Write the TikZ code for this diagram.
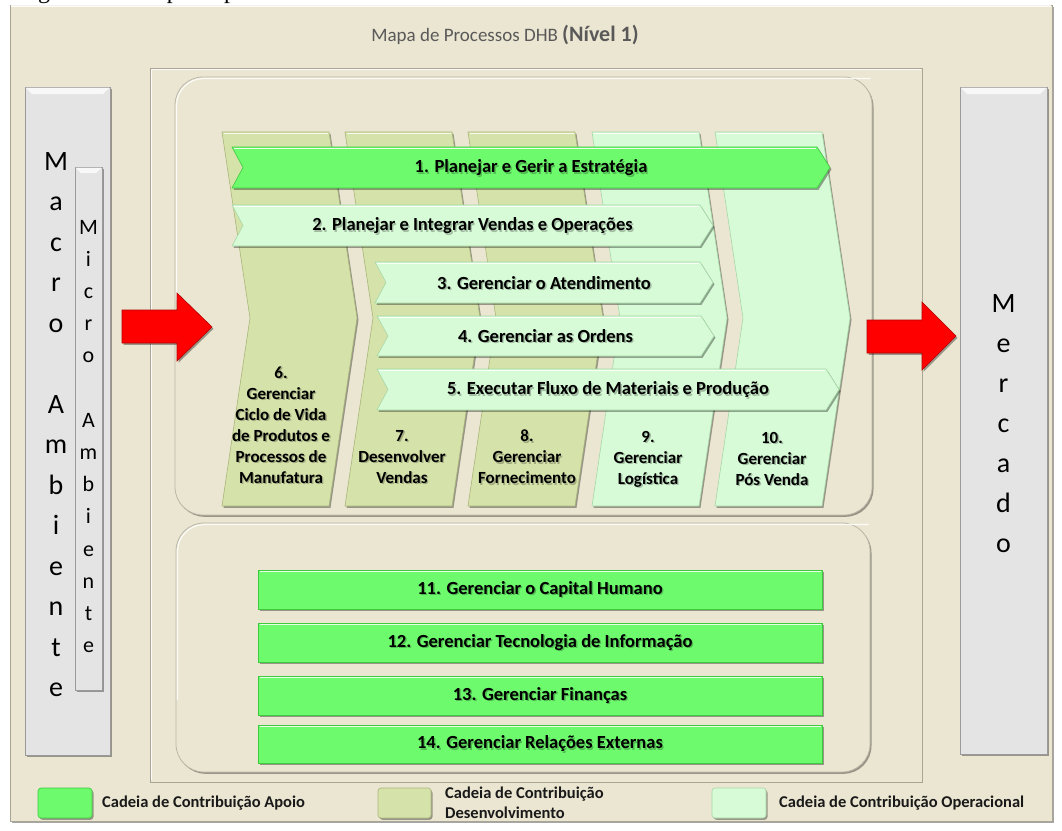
\documentclass[tikz,border=0pt]{standalone}
\usepackage{fontspec}
\setmainfont{Carlito}
\newfontfamily\capfont{Liberation Serif}
\usetikzlibrary{shadows,calc}
\definecolor{beige}{HTML}{EBE6D1}
\definecolor{beigeedge}{HTML}{A9A594}
\definecolor{olivec}{HTML}{D5E2A9}
\definecolor{oliveedge}{HTML}{A8B67A}
\definecolor{mintc}{HTML}{D7FBD7}
\definecolor{mintedge}{HTML}{A6D8A6}
\definecolor{greenc}{HTML}{6DFB6D}
\definecolor{greenedge}{HTML}{3FC93F}
\definecolor{barg}{HTML}{E4E4E4}
\definecolor{baredge}{HTML}{9A9A9A}
\definecolor{titleg}{HTML}{595959}
\definecolor{redc}{HTML}{FF0000}
\tikzset{
  sh/.style={drop shadow={shadow xshift=1.5pt,shadow yshift=-1.8pt,opacity=.35,fill=black}},
  panel/.style={fill=beige,draw=beigeedge,line width=0.8pt},
  rbox/.style={fill=beige,draw=beigeedge!80,line width=0.8pt,rounded corners=28pt,sh},
  graybar/.style={fill=barg,draw=baredge,line width=0.7pt,sh},
  cololive/.style={fill=olivec,draw=oliveedge,line width=0.6pt,sh},
  colmint/.style={fill=mintc,draw=mintedge,line width=0.6pt,sh},
  bandgreen/.style={fill=greenc,draw=greenedge,line width=0.6pt,sh},
  bandmint/.style={fill=mintc,draw=mintedge,line width=0.6pt,sh},
  redarrow/.style={fill=redc,draw=red!70!black,line width=0.6pt,sh},
  swatch/.style={rounded corners=3pt,line width=0.6pt,sh},
  hilite/.style={white,line width=1.2pt,opacity=.85},
  bandtext/.style={font=\bfseries\fontsize{18.5}{20}\selectfont,inner sep=0pt},
  coltext/.style={font=\bfseries\fontsize{17}{21}\selectfont,align=center,inner sep=0pt},
  legtext/.style={font=\bfseries\fontsize{16.5}{20}\selectfont,inner sep=0pt,anchor=west,align=left,text=black!90},
  bigletter/.style={font=\fontsize{28}{28}\selectfont,anchor=base,inner sep=0pt},
  smallletter/.style={font=\fontsize{22}{22}\selectfont,anchor=base,inner sep=0pt},
}
\newcommand\shlabel[4]{%
  \node[#1,text=black,opacity=0.25] at ($#2+(1.4,1.4)$) {#4};
  \node[#1] (#3) at #2 {#4};}
\newcommand\mkband[5]{%
  \path[#5] (#1,#3) -- ({#2-13},#3) -- (#2,{(#3+#4)/2}) -- ({#2-13},#4) -- (#1,#4) -- ({#1+11},{(#3+#4)/2}) -- cycle;
  \draw[hilite] ({#1+2},{#3+1.5}) -- ({#2-14},{#3+1.5});}
\begin{document}
\begin{tikzpicture}[x=1pt,y=-1pt]
\useasboundingbox (0,0) rectangle (1062,830);
\clip (0,0) rectangle (1062,830);
\fill[white] (0,0) rectangle (1062,830);
% caption (cut off at the top)
\node[anchor=base west,inner sep=0pt,font=\capfont\fontsize{24}{24}\selectfont] (caption) at (18,-1.5) {Figura 15 – Mapa de processos};
% outer panel
\path[panel,sh] (10,5) rectangle (1052,821);
\draw[hilite] (11,6) -- (1051,6);
% title
\node[anchor=base,inner sep=0pt,text=titleg,font=\fontsize{19}{20}\selectfont] (title) at (505,41.5) {Mapa de Processos DHB {\bfseries\fontsize{22}{24}\selectfont(Nível 1)}};
% middle panel
\path[panel] (150,68) rectangle (922,782);
\draw[hilite] (151.5,780) -- (151.5,69.5) -- (920.5,69.5);
% rounded boxes
\path[rbox] (175,77) rectangle (872,515);
\draw[hilite,rounded corners=27pt] (176.5,300) -- (176.5,78.5) -- (870.5,78.5);
\path[rbox] (176,523) rectangle (870,772);
\draw[hilite,rounded corners=27pt] (177.5,700) -- (177.5,524.5) -- (868.5,524.5);
% side bars
\path[graybar] (25,87) rectangle (110,755);
\fill[white,opacity=.75] (25.5,87.5) -- (109.5,87.5) -- (103,94) -- (32,94) -- cycle;
\path[graybar] (75,167) rectangle (102,690);
\fill[white,opacity=.75] (75.5,167.5) -- (101.5,167.5) -- (96,173) -- (81,173) -- cycle;
\path[graybar] (960,87) rectangle (1047,754);
\fill[white,opacity=.75] (960.5,87.5) -- (1046.5,87.5) -- (1040,94) -- (967,94) -- cycle;
\foreach \ch [count=\i from 0] in {M,a,c,r,o,,A,m,b,i,e,n,t,e}
  \node[bigletter] (mac\i) at (56,{170+40.5*\i}) {\ch};
\foreach \ch [count=\i from 0] in {M,i,c,r,o,,A,m,b,i,e,n,t,e}
  \node[smallletter] (mic\i) at (88.5,{234+32.2*\i}) {\ch};
\foreach \ch [count=\i from 0] in {M,e,r,c,a,d,o}
  \node[bigletter] (mer\i) at (1003.5,{312+40*\i}) {\ch};
% columns
\foreach \x/\s in {222/cololive,345/cololive,468/cololive,592/colmint,715/colmint}{
  \path[\s] (\x,132) -- ++(107,0) -- ++(28,186) -- ++(-28,188) -- ++(-107,0) -- ++(28,-188) -- cycle;
  \draw[hilite] ({\x+1.5},133.5) -- ({\x+105.5},133.5);
}
% horizontal bands
\mkband{232}{830}{147}{188}{bandgreen}
\mkband{232}{713}{205}{246}{bandmint}
\mkband{375}{713}{262}{303}{bandmint}
\mkband{377}{714}{316}{356}{bandmint}
\mkband{377}{839}{369}{410}{bandmint}
\shlabel{bandtext}{(531,168)}{t1}{1. Planejar e Gerir a Estratégia}
\shlabel{bandtext}{(472.5,226)}{t2}{2. Planejar e Integrar Vendas e Operações}
\shlabel{bandtext}{(544,283)}{t3}{3. Gerenciar o Atendimento}
\shlabel{bandtext}{(545.5,336)}{t4}{4. Gerenciar as Ordens}
\shlabel{bandtext}{(608,390)}{t5}{5. Executar Fluxo de Materiais e Produção}
% column labels
\shlabel{coltext}{(281,425)}{c6}{6.\\Gerenciar\\Ciclo de Vida\\de Produtos e\\Processos de\\Manufatura}
\shlabel{coltext}{(402,457)}{c7}{7.\\Desenvolver\\Vendas}
\shlabel{coltext}{(527,457)}{c8}{8.\\Gerenciar\\Fornecimento}
\shlabel{coltext}{(648,459)}{c9}{9.\\Gerenciar\\Logística}
\shlabel{coltext}{(772,459)}{c10}{10.\\Gerenciar\\Pós Venda}
% red arrows
\path[redarrow] (122,310) -- (177,310) -- (177,293) -- (212,327) -- (177,361) -- (177,343) -- (122,343) -- cycle;
\path[redarrow] (867,320) -- (922,320) -- (922,302) -- (956,336) -- (922,370) -- (922,353) -- (867,353) -- cycle;
% support bars
\foreach \t/\b in {570/609,623/662,676/715,725/763}{
  \path[bandgreen] (258,\t) rectangle (822,\b);
  \draw[hilite] (259.5,{\t+1.5}) -- (820.5,{\t+1.5});
}
\shlabel{bandtext}{(540,589.5)}{t11}{11. Gerenciar o Capital Humano}
\shlabel{bandtext}{(540,642.5)}{t12}{12. Gerenciar Tecnologia de Informação}
\shlabel{bandtext}{(540,695.5)}{t13}{13. Gerenciar Finanças}
\shlabel{bandtext}{(540,744)}{t14}{14. Gerenciar Relações Externas}
% legend
\path[swatch,fill=greenc,draw=greenedge] (38,788) rectangle (92,818);
\node[legtext] (l1) at (102,803) {Cadeia de Contribuição Apoio};
\path[swatch,fill=olivec,draw=oliveedge] (378,788) rectangle (431,818);
\node[legtext] (l2) at (445,803) {Cadeia de Contribuição\\Desenvolvimento};
\path[swatch,fill=mintc,draw=mintedge] (712,788) rectangle (766,818);
\node[legtext] (l3) at (779,803) {Cadeia de Contribuição Operacional};
\end{tikzpicture}
\end{document}
